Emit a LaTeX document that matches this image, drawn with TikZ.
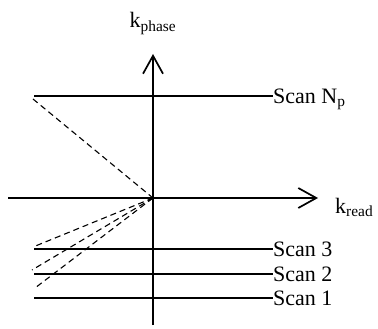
\documentclass[tikz,border=0pt]{standalone}
\usepackage{fontspec}
\setmainfont{Liberation Serif}
\usetikzlibrary{arrows.meta}
\begin{document}
\begin{tikzpicture}[x=1pt,y=-1pt,
  axis/.style={line width=1.7pt,-{Straight Barb[length=18pt,width=20pt,line width=1.7pt]}},
  scanline/.style={line width=1.7pt},
  traj/.style={line width=1.1pt,dash pattern=on 6pt off 4pt},
  lbl/.style={font=\fontsize{22}{26}\selectfont, inner sep=0pt, anchor=base west}]
\useasboundingbox (0,0) rectangle (378,329);
% axes
\coordinate (O) at (153,198);
\coordinate (vb) at (153,325);
\coordinate (vt) at (153,54);
\coordinate (hl) at (8,198);
\coordinate (hr) at (318,198);
\draw[axis] (vb) -- (vt);
\draw[axis] (hl) -- (hr);
\node[lbl, anchor=base] (kp) at (153,28) {k\textsubscript{phase}};
\node[lbl] (kr) at (335,213) {k\textsubscript{read}};
% scan lines
\coordinate (nl) at (34,96);  \coordinate (nr) at (273,96);
\coordinate (t3l) at (34,249); \coordinate (t3r) at (273,249);
\coordinate (t2l) at (34,274); \coordinate (t2r) at (273,274);
\coordinate (t1l) at (34,298); \coordinate (t1r) at (273,298);
\draw[scanline] (nl) -- (nr);
\draw[scanline] (t3l) -- (t3r);
\draw[scanline] (t2l) -- (t2r);
\draw[scanline] (t1l) -- (t1r);
\node[lbl] (sn) at ([yshift=-7pt]nr) {Scan N\textsubscript{p}};
\node[lbl] (s3) at ([yshift=-7pt]t3r) {Scan 3};
\node[lbl] (s2) at ([yshift=-7pt]t2r) {Scan 2};
\node[lbl] (s1) at ([yshift=-7pt]t1r) {Scan 1};
% trajectories
\coordinate (dn) at (33,99);
\coordinate (d3) at (33,247);
\coordinate (d2) at (32,270);
\coordinate (d1) at (35,288);
\draw[traj] (dn) -- (O);
\draw[traj] (O) -- (d3);
\draw[traj] (O) -- (d2);
\draw[traj] (O) -- (d1);
\end{tikzpicture}
\end{document}
